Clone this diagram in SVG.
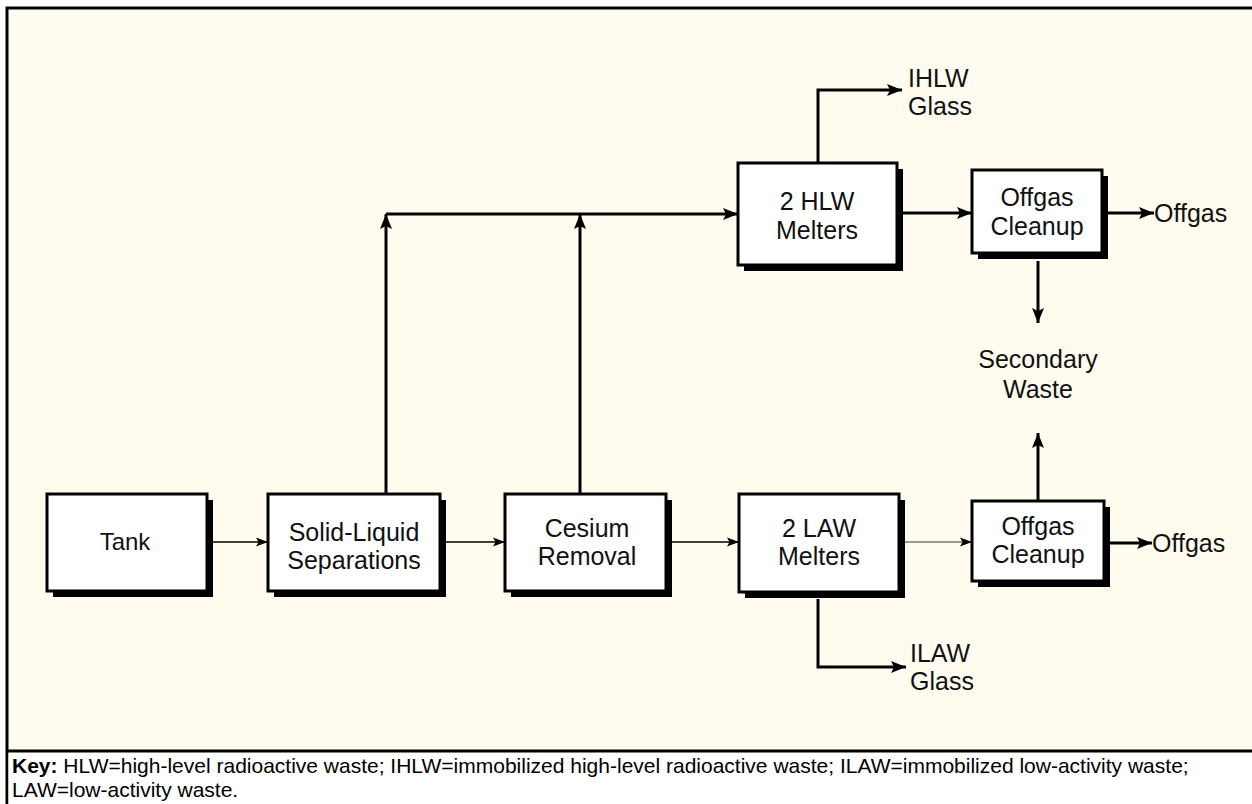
<svg xmlns="http://www.w3.org/2000/svg" width="1252" height="804" viewBox="0 0 1252 804">
<style>
.box{fill:#ffffff;stroke:#000;stroke-width:3}
.sh{fill:#000}
.t{font-family:"Liberation Sans",Arial,sans-serif;font-size:25px;fill:#111;text-anchor:middle}
.lbl{font-family:"Liberation Sans",Arial,sans-serif;font-size:25px;fill:#111}
.key{font-family:"Liberation Sans",Arial,sans-serif;font-size:21px;fill:#000}
.thick{fill:none;stroke:#000;stroke-width:3}
.thin{fill:none;stroke:#000;stroke-width:1.5}
.hair{fill:none;stroke:#333;stroke-width:1}
</style>
<defs>
<marker id="ab" markerUnits="userSpaceOnUse" markerWidth="16" markerHeight="12" refX="15" refY="6" orient="auto">
<path d="M0,0 L15,6 L0,12 L3,6 z" fill="#000"/>
</marker>
<marker id="as" markerUnits="userSpaceOnUse" markerWidth="12" markerHeight="10" refX="12" refY="5" orient="auto">
<path d="M0,0.5 L12,5 L0,9.5 L2.5,5 z" fill="#000"/>
</marker>
</defs>
<rect x="7" y="8" width="1260" height="810" fill="#fffcef" stroke="#000" stroke-width="3"/>
<rect x="8.5" y="752" width="1250" height="60" fill="#ffffff"/>
<line x1="7" y1="751" x2="1252" y2="751" stroke="#000" stroke-width="3"/>

<g id="connectors">
<path class="thin" d="M213 542 H268" marker-end="url(#as)"/>
<path class="thin" d="M446 542 H505" marker-end="url(#as)"/>
<path class="thin" d="M672 542 H739" marker-end="url(#as)"/>
<path class="hair" d="M905 542 H972" marker-end="url(#as)"/>
<path class="thick" d="M1110 543 H1152" marker-end="url(#ab)"/>
<path class="thick" d="M386 494 V214" marker-end="url(#ab)"/>
<path class="thick" d="M386 214 H738" marker-end="url(#ab)"/>
<path class="thick" d="M580 494 V214" marker-end="url(#ab)"/>
<path class="thick" d="M897 213 H972" marker-end="url(#ab)"/>
<path class="thick" d="M1108 213 H1154" marker-end="url(#ab)"/>
<path class="thick" d="M1038 261 V323" marker-end="url(#ab)"/>
<path class="thick" d="M1038 501 V433" marker-end="url(#ab)"/>
<path class="thick" d="M818 163 V90 H902" marker-end="url(#ab)"/>
<path class="thick" d="M818 599 V667 H906" marker-end="url(#ab)"/>
</g>

<g id="tank">
<rect class="sh" x="53" y="500" width="160" height="97"/>
<rect class="box" x="47" y="494" width="160" height="97"/>
<text class="t" x="125" y="550" style="font-size:24px">Tank</text>
</g>
<g id="solid-liquid">
<rect class="sh" x="274" y="500" width="172" height="97"/>
<rect class="box" x="268" y="494" width="172" height="97"/>
<text class="t" x="354" y="541">Solid-Liquid</text>
<text class="t" x="354" y="569">Separations</text>
</g>
<g id="cesium">
<rect class="sh" x="511" y="500" width="161" height="97"/>
<rect class="box" x="505" y="494" width="161" height="97"/>
<text class="t" x="587" y="537">Cesium</text>
<text class="t" x="587" y="565">Removal</text>
</g>
<g id="law-melters">
<rect class="sh" x="745" y="500" width="160" height="98"/>
<rect class="box" x="739" y="494" width="160" height="98"/>
<text class="t" x="819" y="537">2 LAW</text>
<text class="t" x="819" y="565">Melters</text>
</g>
<g id="offgas-lower">
<rect class="sh" x="978" y="507" width="132" height="80"/>
<rect class="box" x="972" y="501" width="132" height="80"/>
<text class="t" x="1038" y="535">Offgas</text>
<text class="t" x="1038" y="563">Cleanup</text>
</g>
<g id="hlw-melters">
<rect class="sh" x="744" y="169" width="159" height="102"/>
<rect class="box" x="738" y="163" width="159" height="102"/>
<text class="t" x="817" y="210">2 HLW</text>
<text class="t" x="817" y="239">Melters</text>
</g>
<g id="offgas-upper">
<rect class="sh" x="978" y="176" width="130" height="83"/>
<rect class="box" x="972" y="170" width="130" height="83"/>
<text class="t" x="1037" y="206">Offgas</text>
<text class="t" x="1037" y="235">Cleanup</text>
</g>

<g id="labels">
<text class="lbl" x="1154" y="222">Offgas</text>
<text class="lbl" x="1152" y="552">Offgas</text>
<text class="lbl" x="908" y="87">IHLW</text>
<text class="lbl" x="908" y="115">Glass</text>
<text class="lbl" x="910" y="662">ILAW</text>
<text class="lbl" x="910" y="690">Glass</text>
<text class="t" x="1038" y="368">Secondary</text>
<text class="t" x="1038" y="398">Waste</text>
</g>

<g id="key">
<text class="key" x="12" y="773"><tspan font-weight="bold">Key:</tspan> HLW=high-level radioactive waste; IHLW=immobilized high-level radioactive waste; ILAW=immobilized low-activity waste;</text>
<text class="key" x="12" y="797">LAW=low-activity waste.</text>
</g>
</svg>
